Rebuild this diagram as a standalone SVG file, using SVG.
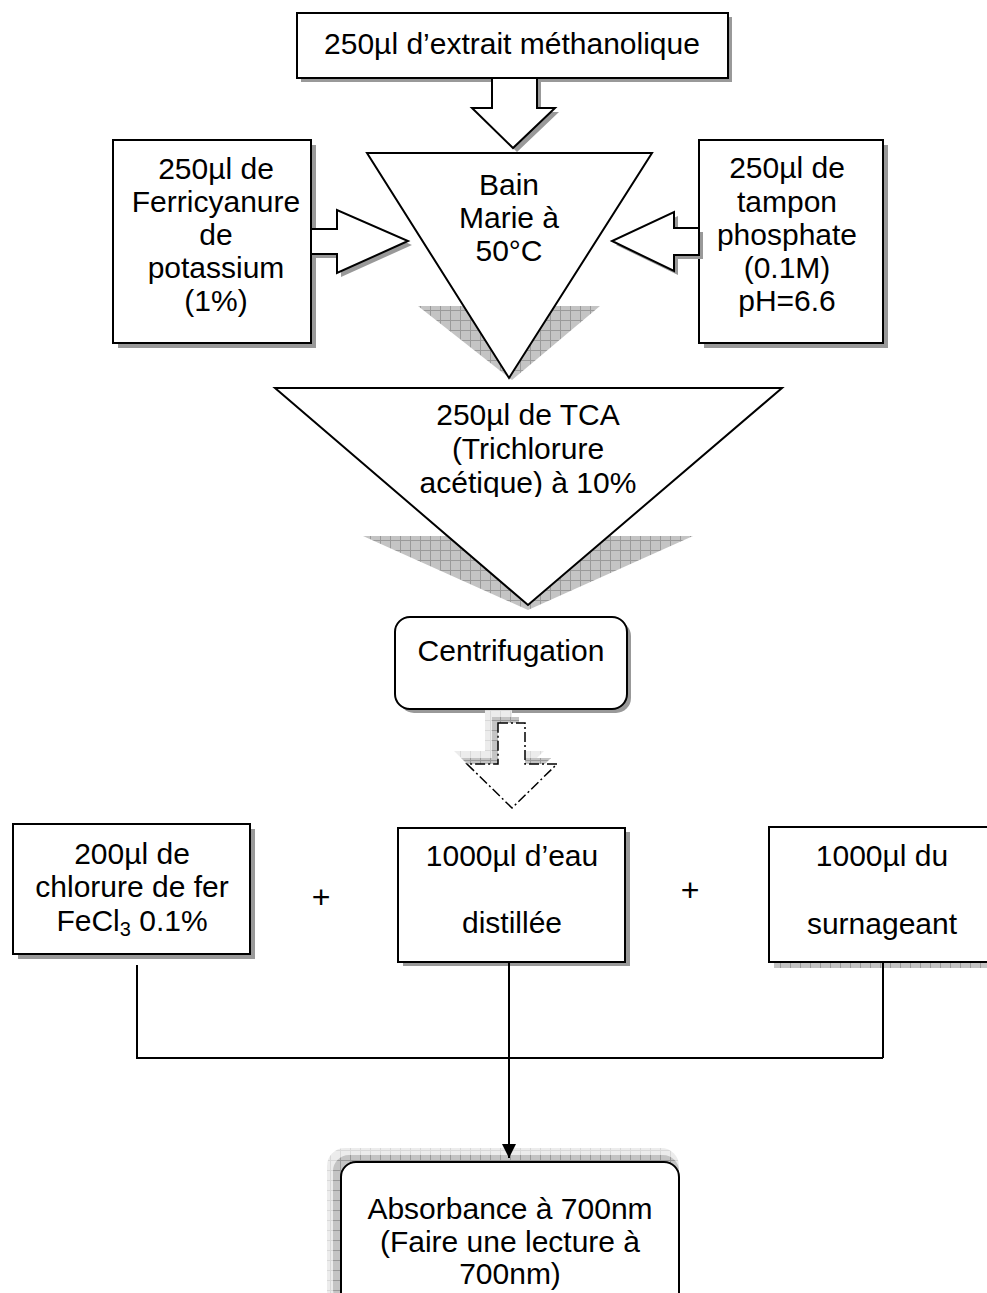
<svg xmlns="http://www.w3.org/2000/svg" width="987" height="1293" viewBox="0 0 987 1293">
<style>
.box{fill:#fff;stroke:#000;stroke-width:2}
.sh{fill:#999;stroke:none}
.t{font-family:"Liberation Sans",Arial,sans-serif;font-size:30px;fill:#000;text-anchor:middle}
.plus{font-family:"Liberation Sans",Arial,sans-serif;font-size:32px;fill:#000;text-anchor:middle}
.ln{fill:none;stroke:#000;stroke-width:2}
</style>
<defs>
<pattern id="hatch" width="10" height="10" patternUnits="userSpaceOnUse">
<rect width="10" height="10" fill="#c4c4c4"/>
<path d="M0,0.5H10M0.5,0V10" stroke="#9a9a9a" stroke-width="1"/>
</pattern>
<pattern id="hatchL" width="10" height="10" patternUnits="userSpaceOnUse">
<rect width="10" height="10" fill="#ececec"/>
<path d="M0,0.5H10M0.5,0V10" stroke="#d8d8d8" stroke-width="1"/>
</pattern>
<clipPath id="tcaClip"><rect x="260" y="390" width="540" height="107"/></clipPath>
<clipPath id="dashClip"><rect x="440" y="709" width="140" height="55"/></clipPath>
<marker id="arr" viewBox="0 0 14 14" refX="14" refY="7" markerWidth="14" markerHeight="14" markerUnits="userSpaceOnUse" orient="auto">
<path d="M0,0L14,7L0,14Z" fill="#000"/>
</marker>
</defs>

<g id="extrait">
<rect class="sh" x="301" y="17" width="431" height="65"/>
<rect class="box" x="297" y="13" width="431" height="65"/>
<text class="t" x="512" y="54">250µl d’extrait méthanolique</text>
</g>

<g id="arrow-top">
<polygon class="sh" points="496,82 541,82 541,112 559,112 517,152 476,112 496,112"/>
<polygon class="box" points="492,78 537,78 537,108 555,108 513,148 472,108 492,108"/>
</g>

<g id="bain-marie">
<polygon fill="url(#hatch)" points="418,306 600,306 512,380"/>
<polygon class="box" points="367,153 652,153 509,378"/>
<text class="t" x="509" y="195">Bain</text>
<text class="t" x="509" y="228">Marie à</text>
<text class="t" x="509" y="261">50°C</text>
</g>

<g id="ferricyanure">
<rect class="sh" x="118" y="145" width="198" height="203"/>
<rect class="box" x="113" y="140" width="198" height="203"/>
<text class="t" x="216" y="179">250µl de</text>
<text class="t" x="216" y="212">Ferricyanure</text>
<text class="t" x="216" y="245">de</text>
<text class="t" x="216" y="278">potassium</text>
<text class="t" x="216" y="311">(1%)</text>
</g>

<g id="arrow-left">
<polygon class="sh" points="315,233 341,233 341,214 412,245 341,277 341,258 315,258"/>
<polygon class="box" points="311,229 337,229 337,210 408,241 337,273 337,254 311,254"/>
</g>

<g id="tampon">
<rect class="sh" x="704" y="145" width="184" height="203"/>
<rect class="box" x="699" y="140" width="184" height="203"/>
<text class="t" x="787" y="178">250µl de</text>
<text class="t" x="787" y="212">tampon</text>
<text class="t" x="787" y="245">phosphate</text>
<text class="t" x="787" y="278">(0.1M)</text>
<text class="t" x="787" y="311">pH=6.6</text>
</g>

<g id="arrow-right">
<polygon class="sh" points="703,232 678,232 678,216 616,245 678,275 678,259 703,259"/>
<polygon class="box" points="699,228 674,228 674,212 612,241 674,271 674,255 699,255"/>
</g>

<g id="tca">
<polygon fill="url(#hatch)" points="363,536 693,536 528,610"/>
<polygon class="box" points="275,388 782,388 528,605"/>
<g clip-path="url(#tcaClip)">
<text class="t" x="528" y="425">250µl de TCA</text>
<text class="t" x="528" y="459">(Trichlorure</text>
<text class="t" x="528" y="493">acétique) à 10%</text>
</g>
</g>

<g id="centrifugation">
<rect class="sh" x="399" y="621" width="232" height="92" rx="15"/>
<rect class="box" x="395" y="617" width="232" height="92" rx="15"/>
<text class="t" x="511" y="661">Centrifugation</text>
</g>

<g id="arrow-dashed">
<g clip-path="url(#dashClip)">
<polygon fill="url(#hatchL)" points="485,710 512,710 512,751 544,751 499,795 454,751 485,751"/>
<polygon fill="url(#hatch)" points="492,717 519,717 519,758 551,758 506,802 461,758 492,758"/>
</g>
<polygon fill="#fff" stroke="#000" stroke-width="1.5" stroke-dasharray="10,3,2,3" points="498,723 525,723 525,764 557,764 512,808 467,764 498,764"/>
</g>

<g id="fecl3">
<rect class="sh" x="18" y="829" width="237" height="130"/>
<rect class="box" x="13" y="824" width="237" height="130"/>
<text class="t" x="132" y="864">200µl de</text>
<text class="t" x="132" y="897">chlorure de fer</text>
<text class="t" x="132" y="931">FeCl<tspan font-size="20" dy="5">3</tspan><tspan dy="-5"> 0.1%</tspan></text>
</g>

<text class="plus" x="321" y="908">+</text>

<g id="eau">
<rect class="sh" x="403" y="832" width="227" height="134"/>
<rect class="box" x="398" y="828" width="227" height="134"/>
<text class="t" x="512" y="866">1000µl d’eau</text>
<text class="t" x="512" y="933">distillée</text>
</g>

<text class="plus" x="690" y="901">+</text>

<g id="surnageant">
<rect fill="url(#hatch)" x="774" y="962" width="220" height="6"/>
<rect class="box" x="769" y="827" width="226" height="135"/>
<text class="t" x="882" y="866">1000µl du</text>
<text class="t" x="882" y="934">surnageant</text>
</g>

<g id="absorbance">
<rect fill="url(#hatchL)" x="327" y="1148" width="352" height="160" rx="18"/>
<rect fill="url(#hatch)" x="333" y="1155" width="346" height="150" rx="16"/>
<rect class="box" x="341" y="1162" width="338" height="145" rx="15"/>
<text class="t" x="510" y="1219">Absorbance à 700nm</text>
<text class="t" x="510" y="1252">(Faire une lecture à</text>
<text class="t" x="510" y="1284">700nm)</text>
</g>

<g id="connectors">
<polyline class="ln" points="137,965 137,1058 883,1058"/>
<line class="ln" x1="883" y1="962" x2="883" y2="1058"/>
<line class="ln" x1="509" y1="962" x2="509" y2="1158" marker-end="url(#arr)"/>
</g>
</svg>
